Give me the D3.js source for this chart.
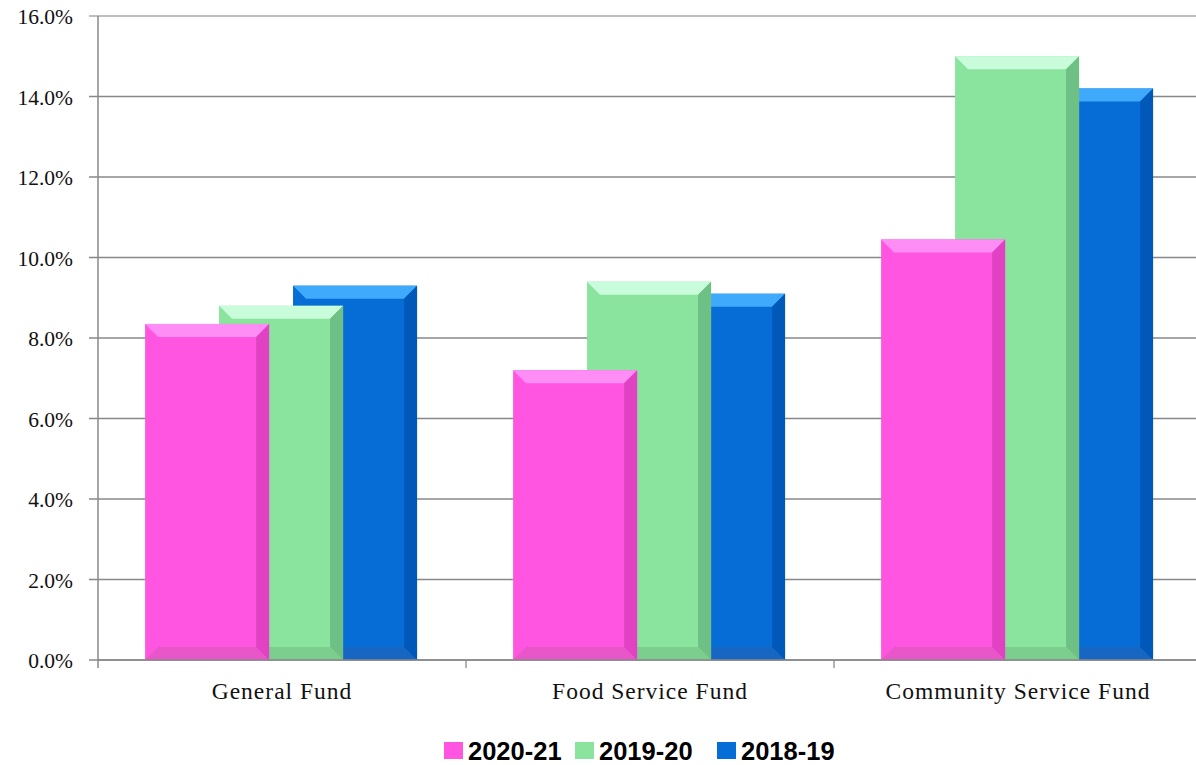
<!DOCTYPE html>
<html lang="en">
<head>
    <meta charset="utf-8">
    <script type="text/javascript" src="https://d3js.org/d3.v7.min.js"></script>
    <title>Fund Percentages</title>
    <style>
        * { box-sizing: border-box; }
        html, body { margin: 0; padding: 0; background: white; }
        .axis-label { font-family: "Liberation Serif", "DejaVu Serif", serif; fill: #111; }
        .legend-label { font-family: "Liberation Sans", Arial, sans-serif; font-weight: bold; fill: #000; }
    </style>
</head>
<body>
    <div id="chart"></div>

    <script type="text/javascript">

        // ---------- DATA ----------
        const categories = ["General Fund", "Food Service Fund", "Community Service Fund"];
        const seriesNames = ["2020-21", "2019-20", "2018-19"];
        const values2020 = [8.35, 7.2, 10.45];
        const values2019 = [8.8, 9.4, 15.0];
        const values2018 = [9.3, 9.1, 14.2];
        const yTicks = [0, 2, 4, 6, 8, 10, 12, 14, 16];

        const seriesValues = [values2020, values2019, values2018];

        // colours: face, top bevel, right side, bottom strip
        const palette = {
            "2020-21": {face: "#FF55E1", top: "#FF8DF6", right: "#E142C4", bottom: "#E856CA"},
            "2019-20": {face: "#8AE49D", top: "#C9FCDB", right: "#6FC084", bottom: "#7CCE8E"},
            "2018-19": {face: "#066CD6", top: "#3FAAFB", right: "#0059B9", bottom: "#1866C4"}
        };

        // ---------- LAYOUT ----------
        const W = 1196, H = 765;
        const plot = {left: 98, top: 16, right: 1202, bottom: 660};
        const bevel = 13;

        const svg = d3.select("#chart")
            .append("svg")
                .attr("width", W)
                .attr("height", H);

        // Scales
        const x = d3.scaleBand()
            .domain(categories)
            .range([plot.left, plot.right])
            .padding(0);

        const y = d3.scaleLinear()
            .domain([0, 16])
            .range([plot.bottom, plot.top]);

        // inner offset of each series inside a category
        const band = x.bandwidth();
        const xs = d3.scaleBand()
            .domain(seriesNames)
            .range([band * 0.128, band * 0.731]);
        const barW = band * 0.337;

        // Gridlines + y ticks
        svg.append("g")
            .selectAll("line")
            .data(yTicks)
            .join("line")
                .attr("x1", plot.left - 9)
                .attr("x2", W)
                .attr("y1", d => y(d))
                .attr("y2", d => y(d))
                .attr("stroke", d => d === 16 ? "#aaa" : "#888")
                .attr("stroke-width", 1.3);

        // Y axis labels
        svg.append("g")
            .selectAll("text")
            .data(yTicks)
            .join("text")
                .attr("class", "axis-label")
                .attr("x", 73)
                .attr("y", d => y(d) + 8)
                .attr("text-anchor", "end")
                .style("font-size", "21.5px")
                .text(d => d.toFixed(1) + "%");

        // Bars (back to front: 2018-19, 2019-20, 2020-21)
        const barData = [];
        categories.forEach((c, ci) => {
            for (let si = seriesNames.length - 1; si >= 0; si--) {
                barData.push({cat: c, name: seriesNames[si], value: seriesValues[si][ci]});
            }
        });

        const bars = svg.append("g")
            .selectAll("g")
            .data(barData)
            .join("g");

        bars.each(function(d) {
            const g = d3.select(this);
            const c = palette[d.name];
            const x0 = x(d.cat) + xs(d.name), x1 = x0 + barW;
            const yT = y(d.value), yB = y(0);
            const b = bevel;
            g.append("rect")
                .attr("x", x0).attr("y", yT)
                .attr("width", x1 - x0).attr("height", yB - yT)
                .attr("fill", c.face);
            // top bevel
            g.append("path")
                .attr("d", `M${x0},${yT}L${x1},${yT}L${x1 - b},${yT + b}L${x0 + b},${yT + b}Z`)
                .attr("fill", c.top);
            // bottom strip
            g.append("path")
                .attr("d", `M${x0},${yB}L${x1},${yB}L${x1 - b},${yB - b}L${x0 + b},${yB - b}Z`)
                .attr("fill", c.bottom);
            // right side
            g.append("path")
                .attr("d", `M${x1},${yT}L${x1},${yB}L${x1 - b},${yB - b}L${x1 - b},${yT + b}Z`)
                .attr("fill", c.right);
        });

        // Y axis line
        svg.append("line")
            .attr("x1", plot.left).attr("x2", plot.left)
            .attr("y1", plot.top).attr("y2", plot.bottom + 8)
            .attr("stroke", "#888").attr("stroke-width", 1.5);

        // X axis line + ticks at category boundaries
        svg.append("line")
            .attr("x1", plot.left).attr("x2", W)
            .attr("y1", plot.bottom).attr("y2", plot.bottom)
            .attr("stroke", "#888").attr("stroke-width", 1.5);

        svg.append("g")
            .selectAll("line")
            .data(categories.slice(1))
            .join("line")
                .attr("x1", d => x(d)).attr("x2", d => x(d))
                .attr("y1", plot.bottom).attr("y2", plot.bottom + 8)
                .attr("stroke", "#888").attr("stroke-width", 1.3);

        // X labels (serif, a bit wider like the original Palatino)
        svg.append("g")
            .selectAll("text")
            .data(categories)
            .join("text")
                .attr("class", "axis-label")
                .attr("x", d => x(d) + band / 2)
                .attr("y", 699)
                .attr("text-anchor", "middle")
                .style("font-size", "23.5px")
                .style("letter-spacing", "1px")
                .text(d => d);

        // Legend
        const legendX = [444, 575, 717];
        const legend = svg.append("g")
            .selectAll("g")
            .data(seriesNames)
            .join("g")
                .attr("transform", (d, i) => `translate(${legendX[i]}, 0)`);

        legend.append("rect")
            .attr("x", 0).attr("y", 742)
            .attr("width", 19).attr("height", 17)
            .attr("fill", d => palette[d].face);

        legend.append("text")
            .attr("class", "legend-label")
            .attr("x", 24)
            .attr("y", 759.5)
            .style("font-size", "25.5px")
            .text(d => d);

    </script>
</body>
</html>
